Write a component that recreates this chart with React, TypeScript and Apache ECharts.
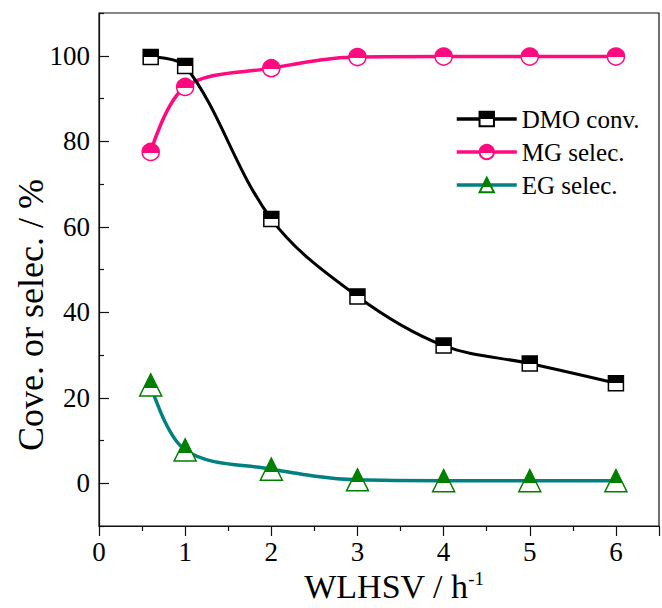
import React, { useEffect, useRef } from "react";
import * as echarts from "echarts";

const xValues = [0.6, 1, 2, 3, 4, 5, 6];
const dmoConv = [99.7, 97.6, 61.8, 43.7, 32.2, 28.0, 23.4];
const mgSelec = [77.5, 92.7, 97.1, 99.7, 99.8, 99.8, 99.8];
const egSelec = [23.0, 7.8, 3.3, 0.8, 0.6, 0.6, 0.6];
const yLabelValues = [0, 20, 40, 60, 80, 100];
const yMinorValues = [-10, 10, 30, 50, 70, 90, 110];
const seriesNames = ["DMO conv.", "MG selec.", "EG selec."];

const FONT = "Liberation Serif";

function halfFill(color: string, split: number) {
  return new echarts.graphic.LinearGradient(0, 0, 0, 1, [
    { offset: 0, color },
    { offset: split, color },
    { offset: split, color: "#ffffff" },
    { offset: 1, color: "#ffffff" },
  ]);
}

export default function App() {
  const ref = useRef<HTMLDivElement>(null);
  useEffect(() => {
    if (!ref.current) return;
    const chart = echarts.init(ref.current, null, { renderer: "svg" });
    const toPairs = (ys: number[]) => xValues.map((x, i) => [x, ys[i]]);
    chart.setOption({
      animation: false,
      backgroundColor: "#ffffff",
      textStyle: { fontFamily: FONT },
      grid: {
        left: 99,
        top: 13,
        right: -7,
        bottom: 82,
        show: true,
        borderColor: "#111",
        borderWidth: 1.2,
      },
      legend: {
        orient: "vertical",
        left: 450,
        top: 101,
        itemWidth: 60,
        itemHeight: 18,
        itemGap: 7,
        data: seriesNames,
        lineStyle: { width: 3.5 },
        textStyle: { fontFamily: FONT, fontSize: 25, color: "#000", lineHeight: 26 },
      },
      xAxis: {
        type: "value",
        min: 0,
        max: 6.5,
        interval: 1,
        axisLine: { show: true, onZero: false, lineStyle: { color: "#111", width: 1.2 } },
        axisTick: { show: true, inside: false, length: 10, lineStyle: { color: "#111", width: 1.2 } },
        minorTick: { show: true, splitNumber: 2, length: 5, lineStyle: { color: "#111", width: 1.2 } },
        splitLine: { show: false },
        axisLabel: {
          fontFamily: FONT,
          fontSize: 27,
          color: "#000",
          margin: 12,
          formatter: (v: number) => (Number.isInteger(v) ? String(v) : ""),
        },
      },
      yAxis: [
        {
          type: "value",
          min: -10,
          max: 110,
          interval: 10,
          axisLine: { show: true, onZero: false, lineStyle: { color: "#111", width: 1.2 } },
          axisTick: {
            show: true,
            inside: true,
            length: 10,
            customValues: yLabelValues,
            lineStyle: { color: "#111", width: 1.2 },
          },
          splitLine: { show: false },
          axisLabel: {
            fontFamily: FONT,
            fontSize: 27,
            color: "#000",
            margin: 9,
            customValues: yLabelValues,
          },
        },
        {
          type: "value",
          position: "left",
          min: -10,
          max: 110,
          interval: 10,
          axisLine: { show: false },
          axisTick: {
            show: true,
            inside: true,
            length: 5,
            customValues: yMinorValues,
            lineStyle: { color: "#111", width: 1.2 },
          },
          splitLine: { show: false },
          axisLabel: { show: false },
        },
      ],
      graphic: [
        {
          type: "text",
          x: 394,
          y: 586,
          style: {
            text: "{a|WLHSV / h}{s|-1}",
            align: "center",
            verticalAlign: "middle",
            fill: "#000",
            rich: {
              a: { fontFamily: FONT, fontSize: 34, fill: "#000", color: "#000" },
              s: { fontFamily: FONT, fontSize: 19, verticalAlign: "top", fill: "#000", color: "#000" },
            },
          },
        },
        {
          type: "text",
          x: 31,
          y: 315,
          rotation: Math.PI / 2,
          style: {
            text: "Cove. or selec. / %",
            fontFamily: FONT,
            fontSize: 36,
            align: "center",
            verticalAlign: "middle",
            fill: "#000",
          },
        },
      ],
      series: [
        {
          name: seriesNames[0],
          type: "line",
          data: toPairs(dmoConv),
          smooth: 0.35,
          symbol: "rect",
          symbolSize: 15,
          lineStyle: { color: "#000", width: 3 },
          itemStyle: { color: halfFill("#000000", 0.5), borderColor: "#000", borderWidth: 1.5 },
          z: 3,
        },
        {
          name: seriesNames[1],
          type: "line",
          data: toPairs(mgSelec),
          smooth: 0.35,
          symbol: "circle",
          symbolSize: 17,
          lineStyle: { color: "#FF0A80", width: 3.5 },
          itemStyle: { color: halfFill("#FF0A80", 0.55), borderColor: "#FF0A80", borderWidth: 1.5 },
          z: 2,
        },
        {
          name: seriesNames[2],
          type: "line",
          data: toPairs(egSelec),
          smooth: 0.35,
          symbol: "triangle",
          symbolSize: 22,
          lineStyle: { color: "#008080", width: 3.5 },
          itemStyle: { color: halfFill("#008000", 0.62), borderColor: "#008000", borderWidth: 1.5 },
          z: 2,
        },
      ],
    });
    return () => chart.dispose();
  }, []);
  return (
    <div
      ref={ref}
      style={{ position: "absolute", left: 0, top: 0, width: 662, height: 608, background: "#fff" }}
    />
  );
}
